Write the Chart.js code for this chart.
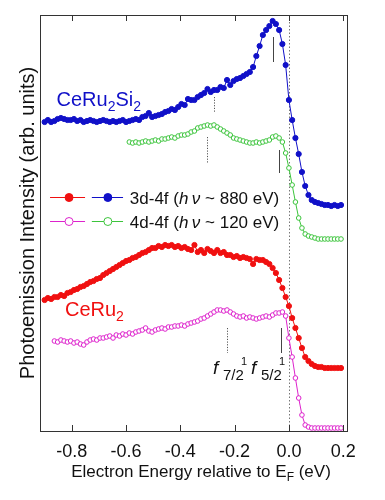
<!DOCTYPE html>
<html>
<head>
<meta charset="utf-8">
<script src="https://cdn.jsdelivr.net/npm/chart.js@4.4.0/dist/chart.umd.min.js"></script>
<style>
  html, body { margin: 0; padding: 0; background: #fff; }
</style>
</head>
<body>
<canvas id="chart" width="385" height="500"></canvas>
<script>
// energy grid (eV, relative to E_F), shared by all four spectra
const energy = [
  -0.900, -0.888, -0.876, -0.864, -0.852, -0.840, -0.828, -0.816, -0.804, -0.792,
  -0.780, -0.768, -0.756, -0.744, -0.732, -0.720, -0.708, -0.696, -0.684, -0.672,
  -0.660, -0.648, -0.636, -0.624, -0.612, -0.600, -0.588, -0.576, -0.564, -0.552,
  -0.540, -0.528, -0.516, -0.504, -0.492, -0.480, -0.468, -0.456, -0.444, -0.432,
  -0.420, -0.408, -0.396, -0.384, -0.372, -0.360, -0.348, -0.336, -0.324, -0.312,
  -0.300, -0.288, -0.276, -0.264, -0.252, -0.240, -0.228, -0.216, -0.204, -0.192,
  -0.180, -0.168, -0.156, -0.144, -0.132, -0.120, -0.108, -0.096, -0.084, -0.072,
  -0.060, -0.048, -0.036, -0.024, -0.012, 0.000, 0.012, 0.024, 0.036, 0.048,
  0.060, 0.072, 0.084, 0.096, 0.108, 0.120, 0.132, 0.144, 0.156, 0.168,
  0.180, 0.192
];

// CeRu2Si2, 3d-4f (hv ~ 880 eV), offset intensity
const ceRu2Si2_3d = [
  309, 311, 309, 310, 312, 313, 312, 311, 311, 312,
  310, 311, 309, 310, 311, 310, 309, 310, 311, 310,
  309, 310, 309, 310, 311, 309, 310, 311, 312, 311,
  314, 315, 318, 314, 315, 316, 317, 319, 320, 322,
  321, 324, 327, 326, 332, 331, 331, 334, 336, 338,
  342, 339, 341, 341, 344, 343, 351, 346, 350, 352,
  353, 355, 357, 359, 364, 375, 385, 396, 401, 405,
  410, 407, 401, 387, 366, 331, 311, 293, 277, 259,
  245, 236, 231, 229, 228, 227, 226, 226, 225, 226,
  225, 226
];

// CeRu2Si2, 4d-4f (hv ~ 120 eV)
const ceRu2Si2_4d = [
  null, null, null, null, null, null, null, null, null, null,
  null, null, null, null, null, null, null, null, null, null,
  null, null, null, null, null, null, 289, 288, 289, 288,
  289, 290, 289, 290, 291, 290, 292, 292, 293, 294,
  293, 295, 296, 296, 297, 299, 300, 303, 304, 305,
  306, 305, 306, 304, 302, 300, 298, 296, 293, 292,
  291, 290, 289, 288, 288, 289, 288, 289, 290, 291,
  294, 295, 293, 289, 278, 263, 246, 229, 213, 203,
  197, 195, 194, 193, 192, 192, 192, 192, 192, 192,
  192, 192
];

// CeRu2, 3d-4f
const ceRu2_3d = [
  131, 133, 132, 134, 134, 136, 135, 138, 139, 141,
  142, 144, 145, 147, 149, 150, 152, 153, 156, 158,
  160, 162, 164, 166, 168, 170, 171, 173, 174, 176,
  178, 179, 181, 183, 183, 185, 184, 186, 185, 186,
  184, 185, 183, 184, 182, 181, 186, 179, 181, 178,
  182, 180, 178, 181, 178, 179, 176, 176, 174, 175,
  173, 174, 173, 172, 167, 172, 171, 171, 169, 167,
  163, 158, 151, 143, 134, 125, 113, 103, 93, 83,
  74, 70, 67, 65, 64, 64, 63, 63, 63, 63,
  63, 63
];

// CeRu2, 4d-4f
const ceRu2_4d = [
  null, null, null, 90, 89, 91, 90, 89, 90, 88,
  89, 87, 86, 89, 91, 92, 91, 93, 93, 94,
  95, 93, 96, 95, 97, 96, 98, 97, 99, 100,
  101, 103, 100, 99, 101, 102, 103, 102, 104, 104,
  105, 105, 106, 105, 107, 108, 109, 110, 112, 113,
  115, 117, 119, 121, 121, 120, 121, 119, 117, 115,
  114, 115, 113, 114, 113, 112, 113, 114, 115, 114,
  116, 118, 118, 119, 115, 93, 74, 53, 33, 16,
  6, 4, 3, 3, 3, 3, 3, 3, 3, 3,
  3, 3
];

const xTicks = [-0.8, -0.6, -0.4, -0.2, 0.0, 0.2];

// f1 7/2 (dotted) and f1 5/2 (solid) markers: [energy, top, bottom]
const f72Marks = [[-0.276, 334, 318], [-0.300, 294, 268], [-0.229, 103, 78]];
const f52Marks = [[-0.058, 394, 369], [-0.038, 281, 258], [-0.029, 103, 78]];

const FONT = "'Liberation Sans', Arial, sans-serif";
const BLUE = '#1010c8', GREEN = '#3cc43c', RED = '#f01010', MAGENTA = '#dd22cc';

function toPoints(values) {
  return energy.map((e, i) => ({ x: e, y: values[i] }));
}

// draw a row of text pieces: [text, size, dy, italic]
function drawRuns(ctx, x, y, parts) {
  parts.forEach(([t, size, dy, italic]) => {
    ctx.font = (italic ? 'italic ' : '') + size + 'px ' + FONT;
    ctx.fillText(t, x, y + dy);
    x += ctx.measureText(t).width;
  });
  return x;
}
function runsWidth(ctx, parts) {
  let w = 0;
  parts.forEach(([t, size, dy, italic]) => {
    ctx.font = (italic ? 'italic ' : '') + size + 'px ' + FONT;
    w += ctx.measureText(t).width;
  });
  return w;
}

const overlay = {
  id: 'overlay',
  beforeDatasetsDraw(chart) {
    const { ctx, chartArea: a, scales: { x, y } } = chart;
    ctx.save();
    ctx.lineWidth = 1;
    // E_F line
    ctx.strokeStyle = '#777';
    ctx.setLineDash([1.5, 2]);
    const ef = Math.round(x.getPixelForValue(0)) + 0.5;
    ctx.beginPath(); ctx.moveTo(ef, a.top); ctx.lineTo(ef, a.bottom); ctx.stroke();
    // f 7/2 markers
    ctx.strokeStyle = '#555';
    ctx.setLineDash([1.2, 1.5]);
    f72Marks.forEach(([e, t, b]) => {
      const px = Math.round(x.getPixelForValue(e)) + 0.5;
      ctx.beginPath(); ctx.moveTo(px, y.getPixelForValue(t)); ctx.lineTo(px, y.getPixelForValue(b)); ctx.stroke();
    });
    // f 5/2 markers
    ctx.setLineDash([]);
    ctx.strokeStyle = '#444';
    f52Marks.forEach(([e, t, b]) => {
      const px = Math.round(x.getPixelForValue(e)) + 0.5;
      ctx.beginPath(); ctx.moveTo(px, y.getPixelForValue(t)); ctx.lineTo(px, y.getPixelForValue(b)); ctx.stroke();
    });
    ctx.restore();
  },
  afterDatasetsDraw(chart) {
    const { ctx, chartArea: a, scales: { x, y } } = chart;
    ctx.save();
    // frame
    ctx.strokeStyle = '#333';
    ctx.lineWidth = 1;
    ctx.strokeRect(Math.round(a.left) + 0.5, Math.round(a.top) + 0.5,
      Math.round(a.right - a.left), Math.round(a.bottom - a.top));
    // inward ticks, top and bottom
    xTicks.forEach(v => {
      const px = Math.round(x.getPixelForValue(v)) + 0.5;
      ctx.beginPath();
      ctx.moveTo(px, a.top); ctx.lineTo(px, a.top + 6);
      ctx.moveTo(px, a.bottom); ctx.lineTo(px, a.bottom - 6);
      ctx.stroke();
    });

    ctx.textBaseline = 'alphabetic';
    ctx.textAlign = 'left';

    // sample names
    ctx.fillStyle = BLUE;
    drawRuns(ctx, x.getPixelForValue(-0.856), y.getPixelForValue(325), [
      ['CeRu', 20, 0], ['2', 14, 5], ['Si', 20, 0], ['2', 14, 5]
    ]);
    ctx.fillStyle = RED;
    drawRuns(ctx, x.getPixelForValue(-0.825), y.getPixelForValue(115), [
      ['CeRu', 20, 0], ['2', 14, 5]
    ]);

    // legend
    const rows = [
      { h: 234, cols: [RED, BLUE], filled: true, text: [['3d-4f (', 17, 0], ['h\u2009\u03BD', 17, 0, true], [' ~ 880 eV)', 17, 0]] },
      { h: 210, cols: [MAGENTA, GREEN], filled: false, text: [['4d-4f (', 17, 0], ['h\u2009\u03BD', 17, 0, true], [' ~ 120 eV)', 17, 0]] }
    ];
    const marks = [[-0.880, -0.810, -0.751], [-0.726, -0.667, -0.611]];
    rows.forEach(r => {
      const py = Math.round(y.getPixelForValue(r.h)) + 0.5;
      r.cols.forEach((c, i) => {
        const [l, m, rr] = marks[i];
        ctx.strokeStyle = c;
        ctx.lineWidth = 1;
        ctx.beginPath();
        ctx.moveTo(x.getPixelForValue(l), py); ctx.lineTo(x.getPixelForValue(rr), py);
        ctx.stroke();
        ctx.beginPath();
        ctx.arc(x.getPixelForValue(m), py, 4, 0, Math.PI * 2);
        ctx.fillStyle = r.filled ? c : '#fff';
        ctx.fill();
        ctx.stroke();
      });
      ctx.fillStyle = '#111';
      drawRuns(ctx, x.getPixelForValue(-0.586), py + 6, r.text);
    });

    // f-state labels
    ctx.fillStyle = '#111';
    [-0.280, -0.140].forEach((e, i) => {
      const px = x.getPixelForValue(e);
      const py = y.getPixelForValue(57);
      drawRuns(ctx, px, py, [['f', 19, 0, true]]);
      drawRuns(ctx, px + 10, py + 6, [[i === 0 ? '7/2' : '5/2', 15, 0]]);
      drawRuns(ctx, px + 28, py - 9, [['1', 11, 0]]);
    });

    // x axis title with subscript F
    const parts = [['Electron Energy relative to E', 17, 0], ['F', 12, 4], [' (eV)', 17, 0]];
    const w = runsWidth(ctx, parts);
    drawRuns(ctx, 201 - w / 2, 477, parts);
    ctx.restore();
  }
};

const lineSet = (values, color, filled, r) => ({
  data: toPoints(values),
  borderColor: color,
  backgroundColor: filled ? color : '#fff',
  pointBackgroundColor: filled ? color : '#fff',
  pointBorderColor: color,
  pointRadius: r,
  pointBorderWidth: 1,
  borderWidth: 1,
  tension: 0,
  spanGaps: false,
  clip: false
});

new Chart(document.getElementById('chart'), {
  type: 'line',
  data: {
    datasets: [
      lineSet(ceRu2_3d, RED, true, 2.6),
      lineSet(ceRu2Si2_3d, BLUE, true, 2.6),
      lineSet(ceRu2_4d, MAGENTA, false, 2.3),
      lineSet(ceRu2Si2_4d, GREEN, false, 2.3)
    ]
  },
  options: {
    responsive: false,
    animation: false,
    events: [],
    layout: { padding: { left: 16, right: 38, top: 15, bottom: 0 } },
    plugins: { legend: { display: false }, tooltip: { enabled: false } },
    scales: {
      x: {
        type: 'linear',
        min: -0.917,
        max: 0.214,
        grid: { display: false, drawTicks: false },
        border: { display: false },
        ticks: {
          stepSize: 0.2,
          includeBounds: false,
          autoSkip: false,
          maxRotation: 0,
          padding: 10,
          color: '#111',
          font: { size: 18, family: FONT },
          callback: v => v.toFixed(1)
        },
        afterFit: s => { s.height = 69; }
      },
      y: {
        min: 0,
        max: 416,
        grid: { display: false, drawTicks: false },
        border: { display: false },
        ticks: { display: false },
        title: {
          display: true,
          text: 'Photoemission Intensity (arb. units)',
          color: '#111',
          font: { size: 20, family: FONT },
          padding: 0
        },
        afterFit: s => { s.width = 24; }
      }
    }
  },
  plugins: [overlay]
});
</script>
</body>
</html>
